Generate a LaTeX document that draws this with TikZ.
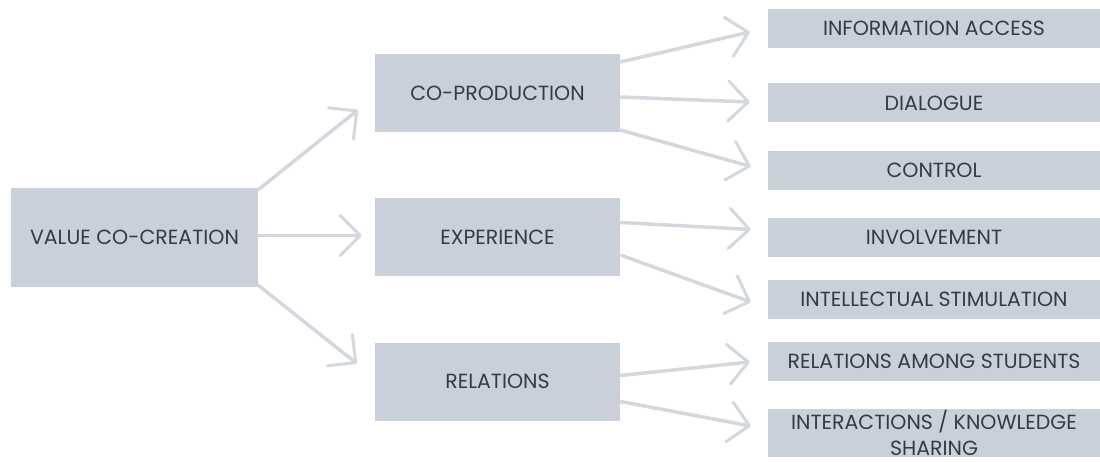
\documentclass[tikz,border=0pt]{standalone}
\usepackage{fontspec}
\setmainfont{Poppins}
\usetikzlibrary{arrows.meta}

\definecolor{boxgray}{HTML}{C9D0D9}
\definecolor{linkgray}{HTML}{D3D8DF}
\definecolor{textgray}{HTML}{363B43}

\tikzset{
  box/.style={fill=boxgray,text=textgray,inner sep=0pt,align=center,
    font=\fontsize{20.5}{26}\selectfont},
  rootbox/.style={box,minimum width=247,minimum height=99},
  midbox/.style={box,minimum width=245,minimum height=78},
  leafbox/.style={box,minimum width=332,minimum height=39},
  link/.style={draw=linkgray,line width=3.5pt,line cap=round,
    -{Straight Barb[length=20pt,width=40pt,line width=3pt,round]}}
}

\begin{document}
\begin{tikzpicture}[x=1pt,y=-1pt]
  \useasboundingbox (0,0) rectangle (1100,462);

  \node[rootbox] (root) at (134.5,237.5) {VALUE CO-CREATION};

  \node[midbox] (cop) at (497.5,93) {CO-PRODUCTION};
  \node[midbox] (exp) at (497.5,237.5) {EXPERIENCE};
  \node[midbox] (rel) at (497.5,381.5) {RELATIONS};

  \node[leafbox] (info) at (934,28.5) {INFORMATION ACCESS};
  \node[leafbox] (dia) at (934,103) {DIALOGUE};
  \node[leafbox] (ctl) at (934,170.5) {CONTROL};
  \node[leafbox] (inv) at (934,237.5) {INVOLVEMENT};
  \node[leafbox] (int) at (934,299.5) {INTELLECTUAL STIMULATION};
  \node[leafbox] (ram) at (934,361.5) {RELATIONS AMONG STUDENTS};
  \node[leafbox,minimum height=48] (iks) at (934,433)
    {INTERACTIONS / KNOWLEDGE\\SHARING};

  % arrows: from anchor, start offset, to node, end offset
  \foreach \a/\s/\b/\e in {
      root.north east/{0,2}/cop/{-17,17},
      root.east/{0,-2}/exp/{-13,-2},
      root.south east/{0,-2}/rel/{-18,-18},
      cop.east/{0,-31}/info/{-18,3.5},
      cop.east/{0,4}/dia/{-18,-1},
      cop.east/{0,37}/ctl/{-17,-4},
      exp.east/{0,-15}/inv/{-17,-8},
      exp.east/{0,17.5}/int/{-17,2.5},
      rel.east/{0,-6}/ram/{-18,0.5},
      rel.east/{0,20}/iks/{-17,-7}}
    \draw[link] ([shift={(\s)}]\a) -- ([shift={(\e)}]\b.west);
\end{tikzpicture}
\end{document}
